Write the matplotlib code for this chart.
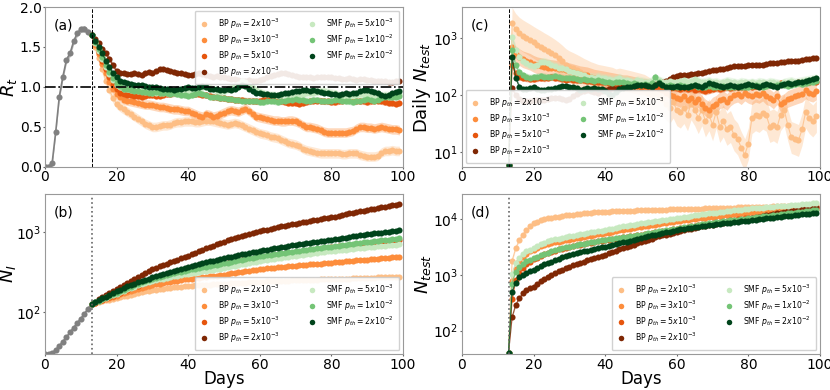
import numpy as np
import matplotlib
matplotlib.use("Agg")
import matplotlib.pyplot as plt
from matplotlib.ticker import NullLocator

# days of the simulation: before the intervention (grey) and after it (colours)
days_pre = np.arange(0, 14)
days = np.arange(13, 100)

labels = [r"BP $p_{th}=2x10^{-3}$", r"BP $p_{th}=3x10^{-3}$",
          r"BP $p_{th}=5x10^{-3}$", r"BP $p_{th}=2x10^{-3}$",
          r"SMF $p_{th}=5x10^{-3}$", r"SMF $p_{th}=1x10^{-2}$",
          r"SMF $p_{th}=2x10^{-2}$"]
colors = ["#fdbe85", "#fd8d3c", "#e6550d", "#7f2704",
          "#c7e9c0", "#74c476", "#00441b"]

# ---------------- (a) R_t ----------------
rt_pre = [0.00, 0.00, 0.05, 0.44, 0.88, 1.13, 1.34, 1.42, 1.57, 1.67, 1.72, 1.73, 1.69, 1.65]
rt_bp1 = [1.65, 1.50, 1.36, 1.22, 1.08, 0.96, 0.86,
          0.79, 0.75, 0.72, 0.69, 0.66, 0.63, 0.60, 0.57, 0.54, 0.52,
          0.50, 0.50, 0.51, 0.52, 0.52, 0.53, 0.55, 0.56, 0.56, 0.57,
          0.57, 0.57, 0.56, 0.56, 0.57, 0.58, 0.58, 0.57, 0.56, 0.55,
          0.54, 0.53, 0.54, 0.55, 0.54, 0.52, 0.50, 0.48, 0.46, 0.44,
          0.42, 0.41, 0.40, 0.38, 0.37, 0.36, 0.34, 0.32, 0.30, 0.29,
          0.28, 0.26, 0.23, 0.21, 0.20, 0.19, 0.18, 0.17, 0.17, 0.17,
          0.17, 0.17, 0.17, 0.16, 0.16, 0.17, 0.17, 0.17, 0.15, 0.14,
          0.13, 0.13, 0.13, 0.14, 0.18, 0.20, 0.20, 0.21, 0.20, 0.20]
rt_bp2 = [1.65, 1.53, 1.41, 1.29, 1.17, 1.06, 0.97,
          0.91, 0.87, 0.84, 0.83, 0.82, 0.81, 0.80, 0.79, 0.78, 0.78,
          0.77, 0.76, 0.75, 0.75, 0.74, 0.73, 0.72, 0.72, 0.71, 0.70,
          0.70, 0.68, 0.66, 0.64, 0.63, 0.66, 0.65, 0.63, 0.64, 0.66,
          0.68, 0.70, 0.71, 0.70, 0.69, 0.71, 0.73, 0.70, 0.66, 0.63,
          0.62, 0.61, 0.60, 0.59, 0.58, 0.58, 0.57, 0.57, 0.58, 0.58,
          0.57, 0.55, 0.52, 0.50, 0.50, 0.49, 0.48, 0.46, 0.44, 0.43,
          0.43, 0.43, 0.43, 0.43, 0.43, 0.44, 0.45, 0.48, 0.50, 0.50,
          0.49, 0.49, 0.48, 0.49, 0.50, 0.49, 0.48, 0.47, 0.47, 0.46]
rt_bp3 = [1.65, 1.55, 1.44, 1.33, 1.22, 1.12, 1.03,
          0.97, 0.93, 0.91, 0.90, 0.90, 0.89, 0.89, 0.88, 0.89, 0.90,
          0.90, 0.89, 0.89, 0.90, 0.91, 0.91, 0.92, 0.92, 0.93, 0.93,
          0.92, 0.92, 0.91, 0.91, 0.90, 0.90, 0.89, 0.88, 0.87, 0.86,
          0.86, 0.85, 0.85, 0.84, 0.84, 0.84, 0.83, 0.83, 0.83, 0.82,
          0.83, 0.84, 0.85, 0.85, 0.84, 0.83, 0.82, 0.81, 0.80, 0.80,
          0.80, 0.79, 0.80, 0.81, 0.82, 0.83, 0.83, 0.83, 0.82, 0.82,
          0.81, 0.81, 0.82, 0.83, 0.84, 0.84, 0.83, 0.83, 0.82, 0.82,
          0.81, 0.82, 0.83, 0.83, 0.82, 0.81, 0.80, 0.80, 0.79, 0.80]
rt_bp4 = [1.65, 1.60, 1.55, 1.48, 1.42, 1.35, 1.27,
          1.20, 1.18, 1.17, 1.16, 1.16, 1.17, 1.16, 1.15, 1.17, 1.19,
          1.18, 1.20, 1.22, 1.23, 1.21, 1.20, 1.19, 1.18, 1.17, 1.16,
          1.15, 1.15, 1.16, 1.17, 1.16, 1.15, 1.14, 1.13, 1.14, 1.13,
          1.12, 1.11, 1.10, 1.10, 1.09, 1.08, 1.08, 1.09, 1.08, 1.08,
          1.09, 1.10, 1.12, 1.14, 1.15, 1.16, 1.17, 1.17, 1.16, 1.15,
          1.14, 1.13, 1.13, 1.12, 1.12, 1.11, 1.12, 1.13, 1.13, 1.12,
          1.12, 1.11, 1.11, 1.10, 1.10, 1.11, 1.10, 1.09, 1.10, 1.10,
          1.09, 1.09, 1.08, 1.08, 1.07, 1.07, 1.06, 1.06, 1.07, 1.07]
rt_s1 = [1.65, 1.55, 1.45, 1.35, 1.25, 1.16, 1.09,
         1.03, 1.00, 0.98, 0.97, 0.96, 0.96, 0.95, 0.95, 0.94, 0.94,
         0.93, 0.93, 0.92, 0.92, 0.93, 0.94, 0.93, 0.92, 0.93, 0.94,
         0.95, 0.96, 0.97, 0.98, 1.00, 1.01, 0.99, 0.97, 0.95, 0.94,
         0.95, 0.97, 0.99, 1.01, 1.04, 1.07, 1.06, 1.03, 0.99, 0.96,
         0.94, 0.92, 0.91, 0.90, 0.90, 0.89, 0.90, 0.91, 0.90, 0.89,
         0.89, 0.90, 0.91, 0.92, 0.92, 0.93, 0.94, 0.95, 0.95, 0.94,
         0.93, 0.92, 0.90, 0.89, 0.88, 0.88, 0.89, 0.90, 0.91, 0.91,
         0.90, 0.89, 0.88, 0.88, 0.89, 0.90, 0.90, 0.90, 0.91, 0.91]
rt_s2 = [1.65, 1.56, 1.47, 1.38, 1.28, 1.19, 1.11,
         1.05, 1.01, 0.98, 0.97, 0.96, 0.95, 0.95, 0.94, 0.94, 0.93,
         0.93, 0.94, 0.93, 0.92, 0.92, 0.91, 0.92, 0.91, 0.90, 0.90,
         0.89, 0.90, 0.91, 0.92, 0.91, 0.90, 0.88, 0.87, 0.87, 0.86,
         0.86, 0.85, 0.85, 0.84, 0.84, 0.83, 0.83, 0.82, 0.82, 0.82,
         0.81, 0.81, 0.82, 0.83, 0.82, 0.81, 0.82, 0.83, 0.84, 0.84,
         0.85, 0.84, 0.84, 0.83, 0.83, 0.84, 0.84, 0.83, 0.82, 0.82,
         0.83, 0.84, 0.84, 0.83, 0.82, 0.82, 0.81, 0.82, 0.83, 0.84,
         0.85, 0.84, 0.83, 0.84, 0.86, 0.87, 0.88, 0.87, 0.88, 0.89]
rt_s3 = [1.65, 1.58, 1.50, 1.42, 1.33, 1.25, 1.17,
         1.12, 1.08, 1.06, 1.05, 1.04, 1.03, 1.02, 1.02, 1.01, 1.00,
         1.00, 1.00, 0.99, 0.98, 0.97, 0.97, 0.96, 0.97, 0.98, 0.99,
         1.00, 0.99, 0.99, 1.00, 1.01, 1.00, 0.98, 0.97, 0.97, 0.96,
         0.96, 0.97, 0.96, 0.98, 1.00, 1.02, 1.01, 0.98, 0.95, 0.93,
         0.92, 0.91, 0.91, 0.90, 0.90, 0.90, 0.91, 0.92, 0.93, 0.94,
         0.95, 0.95, 0.96, 0.96, 0.95, 0.96, 0.95, 0.94, 0.93, 0.92,
         0.91, 0.91, 0.90, 0.91, 0.92, 0.91, 0.92, 0.93, 0.95, 0.96,
         0.96, 0.95, 0.94, 0.92, 0.90, 0.89, 0.90, 0.92, 0.94, 0.95]

# ---------------- (c) daily tests ----------------
dn_bp1 = [6, 1780, 1400, 1200, 1080, 990, 910,
          830, 760, 700, 640, 590, 540, 490, 440, 390, 340,
          310, 290, 270, 250, 230, 215, 200, 190, 180, 175,
          170, 165, 160, 150, 155, 150, 145, 140, 135, 130,
          125, 120, 110, 100, 110, 95, 85, 70, 60, 75,
          55, 50, 60, 45, 70, 55, 40, 55, 35, 45,
          30, 50, 28, 35, 25, 28, 20, 17, 12, 9,
          14, 40, 45, 42, 48, 44, 28, 30, 27, 45,
          55, 30, 18, 17, 16, 25, 50, 40, 35, 42]
dn_bp2 = [6, 700, 520, 460, 420, 400, 380,
          350, 330, 320, 310, 300, 295, 290, 285, 280, 270,
          260, 250, 240, 230, 225, 220, 210, 200, 195, 190,
          185, 180, 175, 170, 165, 160, 160, 155, 150, 145,
          140, 140, 135, 130, 140, 125, 120, 110, 100, 95,
          90, 85, 95, 80, 90, 75, 85, 70, 60, 55,
          65, 70, 80, 85, 75, 90, 100, 105, 95, 110,
          100, 95, 105, 100, 110, 95, 90, 80, 95, 70,
          75, 85, 90, 95, 100, 105, 120, 110, 105, 115]
dn_bp3 = [6, 330, 240, 210, 200, 195, 190,
          190, 195, 200, 195, 200, 205, 200, 195, 190, 185,
          190, 185, 180, 185, 180, 175, 175, 170, 170, 165,
          165, 160, 160, 155, 155, 150, 150, 150, 145, 145,
          140, 145, 140, 140, 135, 140, 135, 135, 130, 135,
          130, 125, 130, 125, 130, 120, 125, 120, 115, 120,
          125, 130, 125, 130, 135, 130, 135, 140, 135, 140,
          145, 140, 145, 150, 145, 150, 155, 150, 155, 160,
          155, 160, 165, 160, 165, 170, 165, 170, 175, 170]
dn_bp4 = [6, 130, 100, 85, 78, 78, 78,
          80, 80, 82, 83, 85, 88, 90, 88, 85, 82,
          85, 95, 105, 112, 118, 120, 115, 112, 110, 115,
          120, 125, 130, 128, 130, 135, 138, 140, 145, 148,
          150, 152, 155, 155, 158, 160, 165, 175, 190, 205,
          215, 220, 225, 225, 230, 235, 240, 245, 255, 265,
          270, 275, 280, 285, 295, 305, 315, 320, 315, 320,
          330, 335, 340, 335, 340, 350, 355, 360, 365, 375,
          380, 385, 390, 395, 400, 410, 420, 430, 440, 435]
dn_s1 = [6, 1050, 620, 460, 400, 360, 340,
         320, 340, 370, 380, 360, 340, 320, 300, 290, 280,
         260, 250, 240, 230, 220, 210, 205, 200, 210, 200,
         195, 190, 185, 190, 200, 185, 180, 175, 170, 180,
         175, 170, 165, 175, 200, 180, 170, 165, 175, 170,
         165, 175, 180, 170, 175, 190, 175, 165, 170, 175,
         165, 170, 160, 165, 175, 170, 165, 160, 170, 165,
         160, 165, 160, 170, 165, 160, 170, 165, 160, 155,
         165, 170, 175, 165, 170, 175, 180, 185, 190, 195]
dn_s2 = [6, 600, 330, 250, 220, 210, 200,
         205, 210, 215, 210, 205, 210, 215, 205, 200, 195,
         200, 195, 190, 185, 190, 185, 180, 175, 180, 175,
         170, 165, 160, 165, 170, 165, 160, 155, 160, 155,
         150, 155, 150, 160, 210, 165, 150, 145, 150, 145,
         140, 150, 145, 140, 145, 150, 140, 135, 140, 145,
         140, 135, 140, 145, 140, 135, 140, 145, 140, 135,
         140, 145, 150, 145, 140, 145, 150, 145, 150, 155,
         150, 145, 150, 155, 160, 155, 160, 165, 170, 175]
dn_s3 = [6, 460, 200, 140, 125, 125, 130,
         135, 125, 120, 122, 125, 128, 130, 138, 142, 145,
         140, 138, 130, 122, 125, 130, 128, 132, 128, 125,
         115, 105, 100, 112, 125, 130, 135, 140, 145, 150,
         150, 148, 145, 140, 150, 160, 150, 140, 135, 140,
         145, 140, 135, 140, 145, 150, 145, 140, 150, 160,
         155, 150, 145, 140, 145, 150, 145, 140, 145, 150,
         155, 150, 145, 140, 150, 155, 150, 145, 140, 150,
         155, 160, 155, 160, 165, 170, 175, 180, 190, 200]

# ---------------- (b) N_I ----------------
ni_pre = [30, 30, 31, 34, 38, 43, 49, 56, 64, 73, 83, 95, 110, 126]
ni_bp1 = [126, 129, 133, 136, 140, 143, 146,
          149, 153, 157, 161, 165, 169, 173, 177, 181, 185,
          188, 191, 193, 196, 198, 201, 203, 206, 208, 211,
          213, 214, 216, 217, 218, 219, 220, 221, 222, 224,
          225, 227, 228, 229, 231, 232, 233, 235, 236, 238,
          239, 240, 241, 242, 243, 244, 245, 246, 247, 248,
          249, 249, 250, 251, 252, 253, 254, 255, 256, 257,
          258, 259, 260, 261, 261, 262, 263, 264, 265, 266,
          267, 268, 269, 270, 270, 271, 272, 273, 274, 275]
ni_bp2 = [126, 131, 136, 141, 146, 151, 156,
          160, 166, 172, 178, 184, 190, 196, 202, 208, 213,
          218, 222, 227, 231, 235, 239, 243, 247, 251, 255,
          258, 262, 265, 269, 272, 275, 278, 281, 284, 288,
          293, 298, 303, 308, 313, 318, 323, 328, 333, 338,
          343, 346, 350, 353, 357, 360, 364, 367, 371, 375,
          378, 382, 385, 389, 392, 396, 400, 403, 407, 410,
          414, 418, 422, 425, 429, 433, 437, 441, 445, 449,
          452, 456, 460, 464, 468, 472, 476, 480, 483, 487]
ni_bp3 = [126, 131, 137, 143, 149, 155, 161,
          168, 175, 183, 190, 198, 206, 214, 222, 230, 238,
          246, 254, 261, 269, 276, 284, 291, 298, 306, 313,
          320, 328, 336, 344, 352, 360, 368, 376, 384, 392,
          400, 408, 416, 424, 432, 440, 448, 456, 464, 472,
          480, 488, 496, 504, 512, 520, 528, 536, 544, 552,
          560, 568, 576, 584, 592, 600, 608, 616, 624, 632,
          640, 648, 657, 665, 674, 682, 691, 699, 708, 716,
          725, 733, 742, 750, 759, 767, 776, 784, 793, 801]
ni_bp4 = [126, 135, 144, 153, 163, 173, 183,
          194, 207, 220, 233, 247, 261, 276, 292, 308, 325,
          340, 355, 370, 385, 400, 415, 432, 449, 466, 483,
          500, 523, 547, 571, 595, 620, 645, 670, 700, 730,
          755, 780, 805, 830, 855, 880, 905, 930, 960, 990,
          1015, 1040, 1065, 1090, 1115, 1140, 1165, 1190, 1215, 1240,
          1265, 1290, 1315, 1340, 1365, 1390, 1415, 1440, 1465, 1490,
          1515, 1550, 1585, 1620, 1655, 1690, 1725, 1760, 1795, 1830,
          1865, 1900, 1935, 1970, 2010, 2050, 2090, 2130, 2170, 2210]
ni_s1 = [126, 132, 138, 144, 150, 157, 163,
         170, 178, 185, 193, 200, 208, 215, 223, 230, 238,
         245, 251, 256, 262, 267, 273, 278, 284, 289, 295,
         300, 305, 311, 316, 322, 327, 333, 338, 344, 349,
         357, 365, 372, 380, 388, 395, 403, 411, 418, 426,
         434, 441, 448, 455, 462, 469, 476, 484, 491, 498,
         505, 512, 519, 526, 533, 540, 548, 555, 562, 569,
         576, 582, 589, 595, 601, 608, 614, 620, 627, 633,
         640, 646, 652, 659, 665, 671, 678, 684, 690, 697]
ni_s2 = [126, 132, 139, 146, 153, 160, 167,
         175, 183, 191, 200, 208, 217, 225, 234, 242, 251,
         259, 267, 275, 283, 291, 299, 306, 313, 320, 327,
         334, 341, 348, 355, 362, 369, 376, 383, 390, 396,
         405, 414, 423, 432, 441, 450, 459, 468, 477, 486,
         495, 503, 511, 519, 527, 535, 543, 551, 559, 567,
         575, 583, 591, 599, 607, 615, 623, 631, 639, 647,
         655, 664, 673, 682, 691, 700, 709, 718, 727, 736,
         745, 754, 763, 772, 781, 790, 799, 808, 817, 826]
ni_s3 = [126, 133, 140, 148, 156, 164, 172,
         182, 191, 200, 209, 218, 226, 235, 244, 253, 262,
         271, 280, 289, 298, 307, 316, 326, 335, 344, 353,
         362, 373, 384, 395, 406, 417, 428, 439, 450, 461,
         472, 482, 492, 502, 512, 522, 533, 544, 555, 566,
         577, 588, 599, 610, 621, 632, 643, 654, 665, 676,
         687, 698, 709, 720, 731, 742, 753, 764, 775, 786,
         797, 810, 823, 836, 849, 862, 875, 888, 901, 914,
         927, 940, 953, 966, 979, 992, 1005, 1018, 1031, 1044]

# ---------------- (d) cumulative tests ----------------
nt_bp1 = [40, 1800, 3000, 4200, 5300, 6400, 7400,
          8400, 9000, 9600, 10000, 10300, 10500, 10800, 11100, 11400, 11700,
          11900, 12100, 12300, 12500, 12700, 12900, 13050, 13200, 13350, 13500,
          13650, 13730, 13810, 13890, 13970, 14050, 14130, 14210, 14290, 14370,
          14450, 14510, 14570, 14630, 14690, 14750, 14810, 14870, 14930, 14990,
          15050, 15120, 15190, 15260, 15330, 15400, 15470, 15540, 15610, 15680,
          15750, 15820, 15890, 15960, 16030, 16100, 16170, 16240, 16310, 16380,
          16450, 16520, 16590, 16660, 16730, 16800, 16870, 16940, 17010, 17080,
          17150, 17240, 17330, 17420, 17510, 17600, 17700, 17800, 17900, 18000]
nt_bp2 = [40, 780, 1300, 1750, 2100, 2400, 2650,
          2850, 3050, 3250, 3400, 3550, 3700, 3850, 3950, 4050, 4150,
          4250, 4380, 4510, 4640, 4770, 4900, 5040, 5180, 5320, 5460,
          5600, 5770, 5940, 6110, 6280, 6450, 6620, 6790, 6960, 7130,
          7300, 7480, 7660, 7840, 8020, 8200, 8380, 8560, 8740, 8920,
          9100, 9300, 9500, 9700, 9900, 10100, 10300, 10500, 10700, 10900,
          11100, 11300, 11500, 11700, 11900, 12100, 12300, 12500, 12700, 12900,
          13100, 13280, 13460, 13640, 13820, 14000, 14180, 14360, 14540, 14720,
          14900, 15080, 15260, 15440, 15620, 15800, 15980, 16160, 16340, 16500]
nt_bp3 = [40, 365, 800, 1100, 1350, 1550, 1730,
          1900, 2050, 2200, 2340, 2480, 2610, 2740, 2860, 2980, 3090,
          3200, 3300, 3400, 3500, 3600, 3700, 3800, 3900, 4000, 4100,
          4200, 4300, 4400, 4500, 4600, 4700, 4810, 4920, 5030, 5140,
          5250, 5390, 5530, 5670, 5810, 5950, 6100, 6250, 6400, 6550,
          6700, 6880, 7060, 7240, 7420, 7600, 7790, 7980, 8170, 8360,
          8550, 8740, 8930, 9120, 9310, 9500, 9700, 9900, 10100, 10300,
          10500, 10720, 10940, 11160, 11380, 11600, 11830, 12060, 12290, 12520,
          12750, 13000, 13250, 13500, 13750, 14000, 14300, 14600, 14900, 15200]
nt_bp4 = [40, 175, 290, 380, 470, 540, 580,
          620, 700, 780, 860, 930, 1000, 1080, 1160, 1240, 1320,
          1400, 1480, 1560, 1640, 1730, 1820, 1910, 2000, 2100, 2200,
          2290, 2440, 2590, 2740, 2890, 3040, 3190, 3340, 3500, 3700,
          3900, 4100, 4300, 4500, 4700, 4900, 5100, 5300, 5500, 5750,
          6000, 6200, 6400, 6600, 6800, 7000, 7200, 7400, 7600, 7800,
          8000, 8200, 8400, 8600, 8800, 9000, 9200, 9400, 9600, 9800,
          10000, 10350, 10700, 11050, 11400, 11750, 12100, 12450, 12800, 13150,
          13500, 13850, 14200, 14550, 14900, 15250, 15600, 15950, 16300, 16650]
nt_s1 = [40, 1050, 1650, 2050, 2400, 2650, 2850,
         3050, 3300, 3550, 3800, 4000, 4200, 4350, 4500, 4650, 4800,
         4900, 5050, 5200, 5350, 5500, 5650, 5800, 5950, 6100, 6250,
         6400, 6600, 6800, 7000, 7200, 7400, 7600, 7800, 8000, 8200,
         8400, 8600, 8800, 9000, 9200, 9400, 9600, 9800, 10000, 10200,
         10400, 10650, 10900, 11150, 11400, 11650, 11900, 12150, 12400, 12650,
         12900, 13150, 13400, 13650, 13900, 14150, 14400, 14650, 14900, 15150,
         15400, 15600, 15800, 16000, 16200, 16400, 16600, 16800, 17000, 17200,
         17400, 17600, 17800, 18000, 18250, 18500, 18750, 19000, 19200, 19400]
nt_s2 = [40, 700, 1150, 1400, 1600, 1750, 1880,
         2000, 2130, 2260, 2390, 2520, 2640, 2760, 2880, 3000, 3110,
         3220, 3320, 3420, 3520, 3620, 3720, 3820, 3930, 4040, 4150,
         4250, 4340, 4430, 4520, 4610, 4700, 4800, 4900, 5000, 5150,
         5300, 5450, 5600, 5750, 5900, 6050, 6200, 6350, 6500, 6650,
         6800, 6980, 7160, 7340, 7520, 7700, 7880, 8060, 8240, 8420,
         8600, 8780, 8960, 9140, 9320, 9500, 9680, 9860, 10040, 10220,
         10400, 10600, 10800, 11000, 11200, 11400, 11600, 11800, 12000, 12200,
         12400, 12650, 12900, 13150, 13400, 13650, 13900, 14150, 14400, 14650]
nt_s3 = [40, 500, 730, 900, 1000, 1100, 1170,
         1240, 1340, 1440, 1540, 1640, 1740, 1850, 1960, 2070, 2180,
         2290, 2380, 2470, 2560, 2650, 2740, 2830, 2930, 3030, 3130,
         3220, 3340, 3460, 3580, 3700, 3820, 3940, 4060, 4200, 4380,
         4560, 4740, 4920, 5100, 5280, 5460, 5640, 5820, 6000, 6200,
         6400, 6550, 6700, 6850, 7000, 7150, 7300, 7450, 7600, 7750,
         7900, 8060, 8220, 8380, 8540, 8700, 8860, 9020, 9180, 9340,
         9450, 9630, 9810, 9990, 10170, 10350, 10530, 10710, 10890, 11070,
         11250, 11440, 11630, 11820, 12010, 12200, 12400, 12600, 12800, 13000]


def draw_series(ax, series, spreads, log):
    """Marker + thin line + shaded band for every strategy."""
    for vals, c, lab, s in zip(series, colors, labels, spreads):
        vals = np.array(vals, dtype=float)
        if log:
            lo, hi = vals / (1 + s), vals * (1 + s)
        else:
            lo, hi = vals - s, vals + s
        ax.fill_between(days, lo, hi, color=c, alpha=0.35, lw=0)
        ax.plot(days, vals, "-", color=c, lw=0.8, alpha=0.8)
        ax.plot(days, vals, "o", color=c, ms=4.4, mew=0, label=lab)


def style_axes(ax, tag, ylabel, xlabel=None):
    ax.set_xlim(0, 100)
    ax.set_xticks([0, 20, 40, 60, 80, 100])
    ax.tick_params(labelsize=10, length=1.5, pad=1, color="0.4")
    for sp in ax.spines.values():
        sp.set_color("0.6")
    ax.text(0.025, 0.86, tag, transform=ax.transAxes, fontsize=10)
    ax.set_ylabel(ylabel, fontsize=13)
    ax.yaxis.set_label_coords(-0.072, 0.5)
    if xlabel:
        ax.set_xlabel(xlabel, fontsize=12, labelpad=-1)


def add_legend(ax, loc):
    ax.legend(loc=loc, ncol=2, fontsize=5.6, labelspacing=0.2,
              handletextpad=1.3, columnspacing=3.6, borderpad=0.7,
              handlelength=1.0, markerscale=0.9, framealpha=0.9)


fig = plt.figure(figsize=(8.3, 3.9), dpi=100)
W = 0.4313
ax_a = fig.add_axes([0.0542, 0.572, W, 0.410])
ax_c = fig.add_axes([0.5566, 0.572, W, 0.410])
ax_b = fig.add_axes([0.0542, 0.092, W, 0.411])
ax_d = fig.add_axes([0.5566, 0.092, W, 0.411])

# (a)
ax_a.fill_between(days_pre, np.array(rt_pre) - 0.04, np.array(rt_pre) + 0.04,
                  color="0.5", alpha=0.5, lw=0)
ax_a.plot(days_pre, rt_pre, "o-", color="0.5", ms=4.4, lw=1.2, mew=0)
draw_series(ax_a, [rt_bp1, rt_bp2, rt_bp3, rt_bp4, rt_s1, rt_s2, rt_s3],
            [0.06, 0.06, 0.04, 0.03, 0.05, 0.04, 0.03], log=False)
ax_a.axhline(1.0, color="k", ls="-.", lw=1.2, zorder=5)
ax_a.axvline(13, color="k", ls="--", lw=0.7)
ax_a.set_ylim(0, 2)
ax_a.set_yticks([0, 0.5, 1.0, 1.5, 2.0])
style_axes(ax_a, "(a)", r"$R_t$")
add_legend(ax_a, "upper right")

# (c)
draw_series(ax_c, [dn_bp1, dn_bp2, dn_bp3, dn_bp4, dn_s1, dn_s2, dn_s3],
            [0.9, 0.4, 0.15, 0.1, 0.2, 0.15, 0.1], log=True)
ax_c.axvline(13, color="k", ls="--", lw=0.7)
ax_c.set_yscale("log")
ax_c.set_ylim(5.5, 3450)
ax_c.yaxis.set_minor_locator(NullLocator())
style_axes(ax_c, "(c)", r"Daily $N_{test}$")
ax_c.yaxis.set_label_coords(-0.08, 0.5)
add_legend(ax_c, "lower left")

# (b)
ax_b.plot(days_pre, ni_pre, "o-", color="0.5", ms=4.4, lw=1.2, mew=0)
draw_series(ax_b, [ni_bp1, ni_bp2, ni_bp3, ni_bp4, ni_s1, ni_s2, ni_s3],
            [0.06, 0.06, 0.05, 0.04, 0.06, 0.05, 0.05], log=True)
ax_b.axvline(13, color="0.4", ls=":", lw=1.2)
ax_b.set_yscale("log")
ax_b.set_ylim(30, 2970)
ax_b.yaxis.set_minor_locator(NullLocator())
style_axes(ax_b, "(b)", r"$N_I$", "Days")
ax_b.yaxis.set_label_coords(-0.076, 0.5)
add_legend(ax_b, "lower right")

# (d)
draw_series(ax_d, [nt_bp1, nt_bp2, nt_bp3, nt_bp4, nt_s1, nt_s2, nt_s3],
            [0.05, 0.04, 0.04, 0.04, 0.05, 0.04, 0.04], log=True)
ax_d.axvline(13, color="0.4", ls=":", lw=1.2)
ax_d.set_yscale("log")
ax_d.set_ylim(38, 28500)
ax_d.yaxis.set_minor_locator(NullLocator())
style_axes(ax_d, "(d)", r"$N_{test}$", "Days")
ax_d.yaxis.set_label_coords(-0.08, 0.5)
add_legend(ax_d, "lower right")

fig.savefig("out.png", dpi=100)
